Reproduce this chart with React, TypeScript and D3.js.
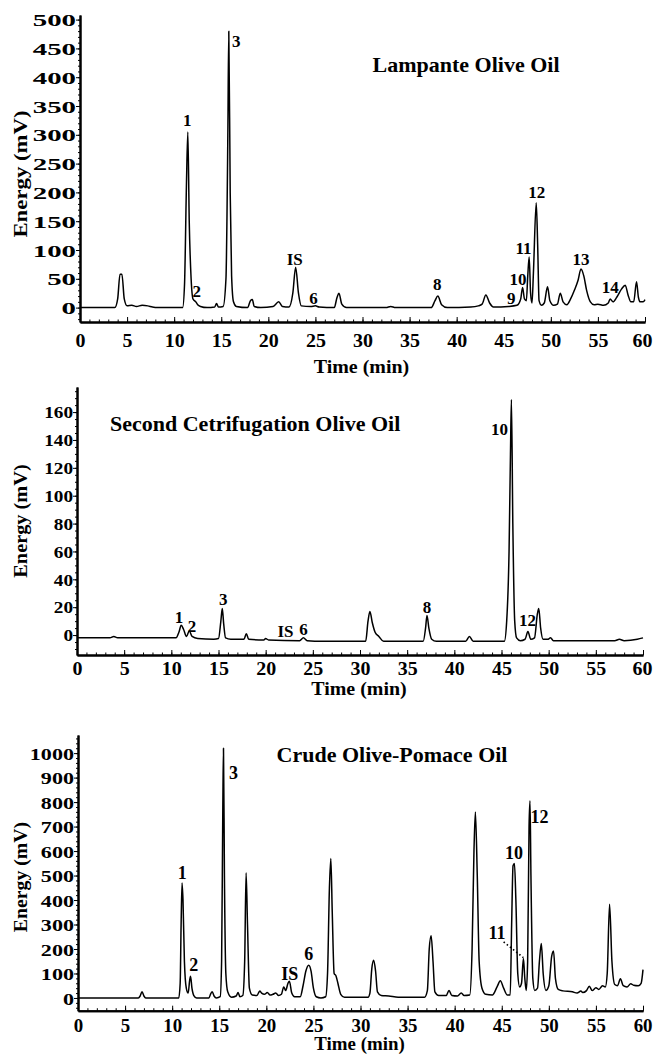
import React, { useEffect, useRef } from 'react';
import * as d3 from 'd3';

// traces: [time (min), energy (mV)]
const lampanteTrace: [number, number][] = [
  [0, 0], [3.7, 0], [4.0, 15], [4.25, 58], [4.45, 58], [4.7, 15], [5.0, 3], [5.5, 4], [6.0, 2], [6.6, 4], [7.2, 3], [7.7, 1], [8.2, 0],
  [10.9, 0], [11.1, 40], [11.3, 210], [11.45, 305], [11.6, 150], [11.8, 50], [12.0, 15], [12.3, 10], [12.5, 5], [12.8, 2], [13.5, 0],
  [14.3, 1], [14.5, 7], [14.7, 1], [15.2, 2], [15.5, 50], [15.7, 300], [15.8, 480], [15.95, 200], [16.1, 55], [16.3, 10], [16.6, 2],
  [17.8, 0], [18.1, 12], [18.3, 14], [18.5, 2], [19.2, 0], [20.5, 2], [21.1, 10], [21.5, 2], [22.2, 1], [22.6, 25], [22.9, 70], [23.2, 25],
  [23.5, 3], [24.5, 2], [25.0, 3], [25.4, 1], [27.0, 0], [27.3, 18], [27.5, 25], [27.8, 6], [28.3, 0], [32.5, 0], [33.0, 2], [33.5, 0],
  [37.3, 0], [37.7, 12], [38.0, 20], [38.4, 5], [39.0, 0], [41.5, 1], [42.3, 3], [42.7, 6], [43.1, 22], [43.5, 8], [43.9, 1],
  [45.5, 2], [46.4, 4], [46.8, 15], [47.0, 35], [47.2, 15], [47.4, 12], [47.55, 55], [47.7, 88], [47.85, 25], [48.0, 8], [48.15, 60],
  [48.45, 182], [48.6, 110], [48.75, 12], [49.0, 4], [49.3, 8], [49.65, 36], [49.9, 12], [50.3, 4], [50.7, 6], [51.0, 25], [51.3, 10],
  [51.7, 5], [52.1, 15], [52.5, 30], [52.9, 48], [53.2, 67], [53.5, 55], [53.8, 30], [54.2, 10], [54.6, 5], [55.0, 6], [55.6, 4], [56.1, 8],
  [56.3, 15], [56.6, 10], [57.0, 18], [57.5, 32], [57.9, 39], [58.2, 22], [58.5, 10], [58.8, 10], [59.1, 45], [59.3, 18], [59.5, 10],
  [59.8, 10], [60, 14],
];

const secondTrace: [number, number][] = [
  [0, -2], [3.5, -2], [3.9, -1], [4.3, -2], [10.5, -2], [10.8, 2], [11.05, 7], [11.3, 4], [11.6, -1], [11.9, 3], [12.2, -1], [12.8, -2.5],
  [14.5, -3], [15.0, -2.5], [15.25, 10], [15.4, 19], [15.55, 8], [15.75, -2], [16.3, -3], [17.7, -3], [17.95, 1], [18.2, -3],
  [19.8, -3.5], [20.0, -2.5], [20.3, -3.5], [23.6, -4], [24.0, -2], [24.4, -4], [26, -4.5], [30.6, -4.5], [30.85, 10], [31.05, 17],
  [31.3, 9], [31.6, 2], [32.0, -1], [32.5, -4.5], [36.7, -4.5], [36.95, 5], [37.1, 14], [37.3, 5], [37.6, -3], [38.1, -4.5],
  [41.2, -4.5], [41.6, -1], [42.0, -4.5], [45.3, -4.5], [45.55, 10], [45.8, 60], [45.95, 130], [46.05, 169], [46.2, 80], [46.4, 10],
  [46.6, -2], [47.0, -4], [47.5, -3], [47.8, 2.5], [48.1, -3], [48.5, -2], [48.8, 15], [48.95, 19], [49.15, 5], [49.4, -3], [49.9, -3],
  [50.2, -2], [50.5, -4], [57.0, -4], [57.5, -3], [58.0, -4], [59.4, -3], [60, -2],
];

const pomaceTrace: [number, number][] = [
  [0, 0], [6.4, 0], [6.6, 8], [6.8, 25], [7.0, 8], [7.2, 0], [10.7, 0], [10.85, 60], [10.95, 300], [11.05, 470], [11.15, 400],
  [11.3, 150], [11.5, 40], [11.7, 20], [11.85, 70], [11.95, 89], [12.1, 40], [12.3, 10], [12.6, 0], [13.9, 0], [14.1, 18], [14.25, 25],
  [14.45, 8], [14.7, 0], [15.1, 5], [15.25, 150], [15.38, 780], [15.45, 1020], [15.55, 500], [15.7, 100], [15.9, 25], [16.3, 3],
  [16.8, 8], [17.0, 22], [17.2, 5], [17.5, 10], [17.7, 150], [17.85, 511], [18.0, 300], [18.2, 40], [18.5, 12], [19.0, 10], [19.3, 28],
  [19.5, 20], [19.8, 15], [20.1, 22], [20.4, 12], [20.7, 15], [21.0, 20], [21.3, 10], [21.6, 15], [21.85, 45], [22.05, 30], [22.3, 60],
  [22.45, 68], [22.7, 20], [23.0, 5], [23.6, 5], [23.9, 50], [24.2, 110], [24.5, 134], [24.75, 110], [25.0, 40], [25.3, 5], [25.8, 0],
  [26.3, 5], [26.5, 100], [26.7, 450], [26.85, 570], [27.0, 350], [27.2, 100], [27.4, 90], [27.6, 60], [27.9, 15], [28.3, 3], [30.8, 3],
  [31.0, 20], [31.2, 120], [31.4, 154], [31.6, 110], [31.8, 25], [32.2, 10], [33.0, 8], [34, 3], [36.8, 3], [37.1, 30], [37.3, 200],
  [37.5, 254], [37.7, 150], [37.9, 25], [38.3, 10], [39.1, 10], [39.4, 31], [39.7, 10], [40.3, 8], [40.7, 20], [41.0, 10], [41.6, 12],
  [41.85, 200], [42.05, 600], [42.2, 760], [42.4, 500], [42.6, 150], [42.9, 40], [43.3, 15], [44.0, 12], [44.5, 45], [44.85, 70],
  [45.2, 40], [45.6, 12], [45.9, 12], [46.05, 300], [46.2, 540], [46.35, 549], [46.5, 400], [46.7, 100], [46.9, 45], [47.1, 60],
  [47.3, 161], [47.45, 80], [47.6, 31], [47.75, 150], [47.9, 700], [48.0, 805], [48.1, 500], [48.3, 80], [48.5, 31], [48.8, 40],
  [49.0, 150], [49.2, 222], [49.4, 100], [49.7, 31], [50.0, 50], [50.3, 170], [50.5, 192], [50.7, 80], [51.0, 35], [51.5, 29],
  [52.5, 25], [53.0, 20], [53.4, 28], [53.6, 22], [54.0, 30], [54.3, 48], [54.6, 30], [55.0, 42], [55.3, 35], [55.7, 50], [56.0, 45],
  [56.2, 100], [56.45, 383], [56.7, 150], [57.0, 55], [57.3, 50], [57.6, 79], [57.9, 50], [58.3, 45], [58.7, 58], [59.0, 52],
  [59.5, 50], [59.8, 60], [60.0, 116],
];

// peak labels: [text, time, energy]
const lampanteLabels: [string, number, number][] = [
  ['1', 11.4, 315], ['2', 12.4, 19], ['3', 16.6, 453], ['IS', 22.8, 74], ['6', 24.8, 6], ['8', 37.95, 31], ['9', 45.8, 6],
  ['10', 46.5, 39], ['11', 47.1, 93], ['12', 48.5, 190], ['13', 53.2, 74], ['14', 56.3, 25],
];
const secondLabels: [string, number, number][] = [
  ['1', 10.8, 8.8], ['2', 12.2, 2.4], ['3', 15.5, 21.5], ['IS', 22.1, -1.2], ['6', 24.0, 0], ['8', 37.1, 15.6],
  ['10', 44.8, 143.5], ['12', 47.75, 6.5],
];
const pomaceLabels: [string, number, number][] = [
  ['1', 11.08, 484], ['2', 12.3, 110], ['3', 16.5, 893], ['IS', 22.5, 75], ['6', 24.5, 157], ['10', 46.3, 566],
  ['11', 44.5, 239], ['12', 49.0, 713],
];
const pomaceLeader: [number, number][] = [[45.2, 229], [47.3, 165]];

const xTicks = d3.range(0, 61, 5);
const lampanteYTicks = d3.range(0, 501, 50);
const secondYTicks = d3.range(0, 161, 20);
const pomaceYTicks = d3.range(0, 1001, 100);

const FONT = '"Liberation Serif", "Times New Roman", serif';

const panels = [
  {
    title: 'Lampante Olive Oil', titleX: 466, titleY: 72, titleAnchor: 'middle',
    trace: lampanteTrace, labels: lampanteLabels, labelSize: 17, leader: null as [number, number][] | null,
    yDomain: [-25, 508], yRange: [322, 15], xRange: [80, 645],
    yTicks: lampanteYTicks, yMinor: d3.range(-20, 508, 10), yStretch: 1.7, ySize: 17,
    xSize: 19, xLabelGap: 25, titleGap: 51, energyY: 174, energyStretch: 1.2,
  },
  {
    title: 'Second Cetrifugation Olive Oil', titleX: 110, titleY: 431, titleAnchor: 'start',
    trace: secondTrace, labels: secondLabels, labelSize: 17, leader: null,
    yDomain: [-14.3, 178], yRange: [655, 387], xRange: [77, 643],
    yTicks: secondYTicks, yMinor: d3.range(-10, 178, 5), yStretch: 1.2, ySize: 16,
    xSize: 19, xLabelGap: 20, titleGap: 40, energyY: 521, energyStretch: 1.07,
  },
  {
    title: 'Crude Olive-Pomace Oil', titleX: 392, titleY: 762, titleAnchor: 'middle',
    trace: pomaceTrace, labels: pomaceLabels, labelSize: 18, leader: pomaceLeader,
    yDomain: [-52, 1074], yRange: [1010.7, 735], xRange: [78, 643],
    yTicks: pomaceYTicks, yMinor: d3.range(-40, 1074, 20), yStretch: 1.3, ySize: 17,
    xSize: 18, xLabelGap: 21.5, titleGap: 39, energyY: 877, energyStretch: 1.04,
  },
];

type PanelCfg = typeof panels[number];

const Panel = ({ cfg }: { cfg: PanelCfg }) => {
  const xRef = useRef<SVGGElement>(null);
  const yRef = useRef<SVGGElement>(null);
  const x = d3.scaleLinear().domain([0, 60]).range(cfg.xRange);
  const y = d3.scaleLinear().domain(cfg.yDomain).range(cfg.yRange);
  const axisY = cfg.yRange[0];

  useEffect(() => {
    const gx = d3.select(xRef.current!);
    gx.selectAll('*').remove();
    gx.append('g').call(d3.axisBottom(x).tickValues(d3.range(0, 61, 1)).tickSizeInner(-2.5).tickSizeOuter(0).tickFormat(() => ''));
    gx.append('g').call(d3.axisBottom(x).tickValues(xTicks).tickSizeInner(-5).tickSizeOuter(0).tickFormat(d3.format('d')));
    gx.selectAll('path.domain').attr('stroke-width', 2);
    gx.selectAll('line').attr('stroke-width', 1);
    gx.selectAll('text')
      .attr('y', 0).attr('dy', 0)
      .attr('transform', `translate(0,${cfg.xLabelGap}) scale(1.05,1)`)
      .attr('font-family', FONT).attr('font-weight', 'bold').attr('font-size', cfg.xSize).attr('fill', '#000');
    // last label sits against the right edge of the page, as in the figure
    gx.selectAll<SVGTextElement, number>('text').filter(d => d === 60)
      .attr('text-anchor', 'end').attr('x', (652 - x(60)) / 1.05);

    const gy = d3.select(yRef.current!);
    gy.selectAll('*').remove();
    gy.append('g').call(d3.axisLeft(y).tickValues(cfg.yMinor).tickSizeInner(2).tickSizeOuter(0).tickFormat(() => ''));
    gy.append('g').call(d3.axisLeft(y).tickValues(cfg.yTicks).tickSizeInner(4).tickSizeOuter(0).tickFormat(d3.format('d')));
    gy.selectAll('path.domain').attr('stroke-width', 2);
    gy.selectAll('line').attr('stroke-width', 1);
    gy.selectAll('text')
      .attr('x', 0).attr('dy', '0.36em')
      .attr('transform', `translate(-4,0) scale(${cfg.yStretch},1)`)
      .attr('font-family', FONT).attr('font-weight', 'bold').attr('font-size', cfg.ySize).attr('fill', '#000');
  }, [cfg]);

  const line = d3.line<[number, number]>().x(d => x(d[0])).y(d => y(d[1])).curve(d3.curveMonotoneX);
  const xMid = (cfg.xRange[0] + cfg.xRange[1]) / 2;

  return (
    <g>
      <g ref={xRef} transform={`translate(0,${axisY})`} />
      <g ref={yRef} transform={`translate(${cfg.xRange[0]},0)`} />
      <path d={line(cfg.trace) ?? ''} fill="none" stroke="#000" strokeWidth={1.5} strokeLinejoin="round" />
      {cfg.labels.map(([t, tx, v], i) => (
        <text key={i} x={x(tx)} y={y(v)} textAnchor="middle" fontFamily={FONT} fontWeight="bold" fontSize={cfg.labelSize}>{t}</text>
      ))}
      {cfg.leader && (
        <line x1={x(cfg.leader[0][0])} y1={y(cfg.leader[0][1])} x2={x(cfg.leader[1][0])} y2={y(cfg.leader[1][1])}
          stroke="#000" strokeWidth={1.6} strokeDasharray="1.5,2.5" />
      )}
      <text x={cfg.titleX} y={cfg.titleY} textAnchor={cfg.titleAnchor as any} fontFamily={FONT} fontWeight="bold" fontSize={22}>{cfg.title}</text>
      <text transform={`translate(${xMid - 1},${axisY + cfg.titleGap}) scale(1.05,1)`} textAnchor="middle" fontFamily={FONT} fontWeight="bold" fontSize={cfg.xSize}>Time (min)</text>
      <text transform={`translate(21,${cfg.energyY}) rotate(-90) scale(${cfg.energyStretch},1)`} dy="0.32em" textAnchor="middle"
        fontFamily={FONT} fontWeight="bold" fontSize={19}>Energy (mV)</text>
    </g>
  );
};

export default function App() {
  return (
    <svg width={653} height={1057} style={{ position: 'absolute', left: 0, top: 0, background: '#fff' }}>
      <rect width={653} height={1057} fill="#fff" />
      {panels.map((p, i) => <Panel key={i} cfg={p} />)}
    </svg>
  );
}
